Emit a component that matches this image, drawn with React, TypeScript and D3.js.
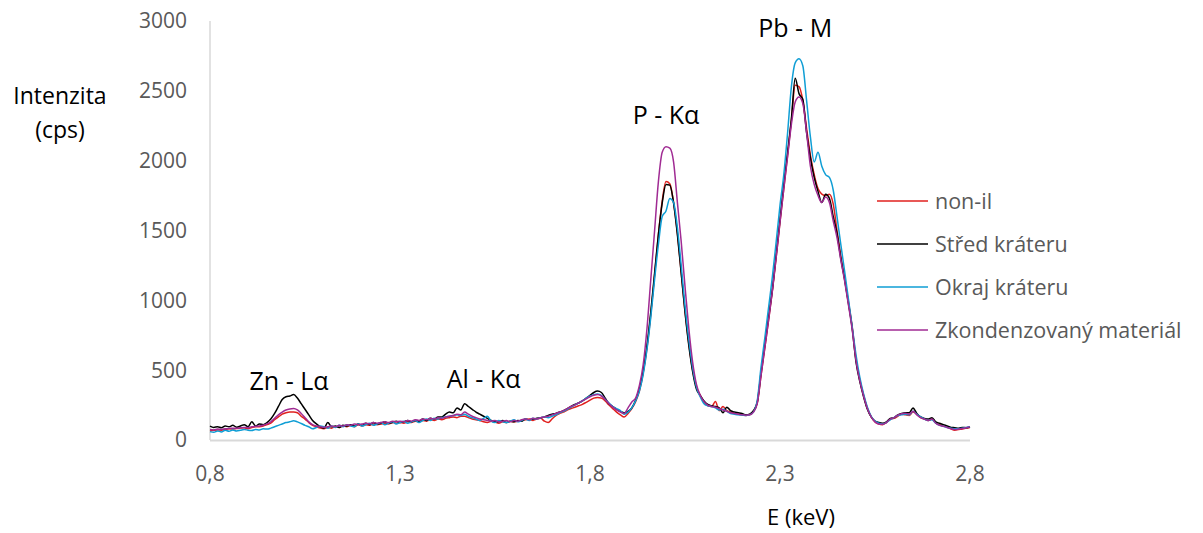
import React from "react";
import * as d3 from "d3";

const energies: number[] = d3.range(0, 201).map((i) => +(0.8 + i * 0.01).toFixed(2));

const nonIl: number[] = [
  65, 70, 72, 70, 75, 80, 78, 82, 85, 88,
  80, 90, 95, 95, 100, 110, 120, 145, 165, 185,
  195, 200, 200, 195, 170, 150, 125, 105, 95, 85,
  80, 90, 85, 95, 90, 100, 95, 105, 95, 110,
  100, 110, 105, 115, 110, 115, 120, 115, 125, 120,
  125, 120, 130, 125, 135, 130, 140, 135, 145, 140,
  150, 145, 155, 160, 165, 160, 170, 170, 160, 150,
  145, 140, 130, 125, 135, 130, 120, 130, 125, 135,
  130, 135, 140, 145, 150, 140, 150, 155, 135, 125,
  150, 175, 190, 200, 215, 225, 235, 245, 255, 270,
  285, 300, 305, 300, 280, 250, 225, 200, 180, 165,
  190, 225, 275, 350, 480, 660, 900, 1180, 1470, 1710,
  1850, 1835, 1700, 1480, 1200, 920, 690, 500, 380, 320,
  270, 245, 240, 275, 210, 240, 210, 200, 190, 185,
  185, 175, 180, 205, 260, 460, 660, 860, 1070, 1310,
  1560, 1800, 2040, 2290, 2540, 2530, 2430, 2230, 2040, 1900,
  1800, 1760, 1750, 1760, 1690, 1500, 1320, 1160, 990, 810,
  580, 430, 320, 225, 165, 130, 115, 110, 125, 150,
  155, 170, 185, 180, 175, 200, 185, 160, 150, 140,
  150, 125, 110, 100, 95, 80, 70, 75, 78, 85,
  90,
];

const stred: number[] = [
  100, 90, 95, 88, 100, 95, 105, 92, 100, 110,
  95, 130, 100, 115, 110, 125, 150, 190, 240, 290,
  310, 315, 325, 300, 260, 220, 180, 140, 115, 95,
  85, 125, 95, 100, 90, 105, 100, 110, 100, 115,
  105, 120, 110, 125, 115, 120, 130, 120, 125, 135,
  125, 130, 140, 130, 140, 135, 150, 140, 155, 150,
  165, 165, 185, 200, 195, 230, 215, 260, 240, 220,
  200, 185, 170, 155, 140, 135, 130, 140, 125, 135,
  130, 140, 135, 150, 145, 150, 155, 160, 165, 175,
  185, 190, 200, 210, 225, 240, 255, 265, 280, 300,
  320, 340, 350, 340, 300, 260, 240, 220, 205, 195,
  205, 230, 285, 365, 492, 677, 917, 1195, 1471, 1696,
  1830, 1825, 1696, 1471, 1195, 917, 677, 492, 365, 320,
  280, 255, 245, 240, 230, 195, 235, 210, 200, 195,
  190, 180, 185, 210, 270, 480, 680, 880, 1080, 1330,
  1580, 1830, 2060, 2300, 2590, 2480, 2440, 2200, 2020, 1880,
  1780, 1700, 1760, 1730, 1600, 1480, 1300, 1150, 980, 800,
  560, 420, 310, 220, 165, 135, 125, 120, 130, 155,
  160, 180, 190, 195, 195, 230, 190, 165, 155, 150,
  160, 130, 120, 110, 100, 90, 88, 85, 90, 88,
  93,
];

const okraj: number[] = [
  60, 55, 65, 58, 70, 62, 72, 65, 70, 75,
  70, 68, 75, 72, 80, 78, 85, 95, 105, 115,
  125, 130, 138, 130, 118, 105, 95, 80, 90, 100,
  95, 85, 100, 90, 105, 95, 110, 100, 95, 115,
  100, 110, 120, 105, 115, 125, 110, 120, 130, 115,
  125, 135, 120, 130, 140, 125, 140, 150, 140, 155,
  150, 160, 165, 170, 175, 180, 175, 185, 170, 160,
  150, 140, 155, 170, 135, 125, 140, 130, 125, 135,
  145, 130, 140, 150, 140, 155, 150, 160, 165, 160,
  170, 180, 195, 205, 220, 235, 250, 265, 280, 300,
  315, 325, 330, 320, 290, 265, 240, 225, 210, 185,
  200, 230, 280, 350, 470, 650, 880, 1150, 1400, 1600,
  1640, 1730, 1700, 1520, 1250, 960, 720, 520, 380, 310,
  260, 245, 240, 230, 215, 220, 205, 190, 185, 180,
  178, 175, 180, 200, 280, 520, 730, 950, 1170, 1420,
  1680, 1900, 2200, 2530, 2700, 2730, 2680, 2430, 2170, 1990,
  2060, 1960, 1900, 1880, 1790, 1600, 1400, 1210, 1010, 810,
  610, 450, 330, 235, 170, 135, 120, 115, 125, 145,
  160, 175, 180, 185, 180, 205, 185, 165, 150, 140,
  145, 120, 105, 98, 90, 85, 80, 82, 85, 90,
  95,
];

const zkond: number[] = [
  75, 72, 78, 76, 80, 82, 85, 84, 88, 90,
  88, 95, 98, 100, 105, 115, 130, 155, 180, 200,
  215, 222, 225, 215, 190, 160, 130, 110, 100, 95,
  90, 95, 100, 95, 105, 100, 110, 105, 115, 110,
  115, 120, 115, 125, 120, 125, 130, 125, 135, 130,
  135, 130, 140, 135, 145, 140, 150, 145, 155, 150,
  160, 155, 165, 170, 175, 185, 180, 200, 185, 170,
  160, 150, 145, 140, 135, 140, 130, 135, 140, 130,
  140, 135, 145, 150, 145, 155, 150, 160, 165, 170,
  180, 190, 200, 210, 225, 240, 250, 265, 280, 295,
  310, 320, 325, 315, 290, 260, 235, 215, 200, 190,
  230, 272, 300, 390, 540, 800, 1150, 1500, 1850, 2060,
  2100, 2090, 1990, 1700, 1420, 1100, 800, 560, 400, 320,
  275, 250, 240, 235, 225, 215, 205, 195, 190, 185,
  180, 178, 180, 200, 260, 460, 660, 860, 1070, 1310,
  1560, 1800, 2030, 2260, 2420, 2456, 2410, 2200, 1960, 1830,
  1750, 1700, 1740, 1700, 1570, 1450, 1290, 1140, 970, 790,
  570, 425, 315, 225, 165, 130, 115, 112, 125, 150,
  160, 178, 188, 192, 185, 205, 180, 160, 150, 140,
  150, 120, 105, 98, 90, 80, 75, 78, 82, 88,
  96,
];

const seriesNames = ["non-il", "Střed kráteru", "Okraj kráteru", "Zkondenzovaný materiál"];
const seriesColors = ["#e0201e", "#000000", "#0f9ed5", "#a02b93"];
const seriesData = [nonIl, stred, okraj, zkond];

const xTicks = [0.8, 1.3, 1.8, 2.3, 2.8];
const yTicks = [0, 500, 1000, 1500, 2000, 2500, 3000];

const peakLabels = [
  { text: "Zn - Lα", e: 1.008, py: 390 },
  { text: "Al - Kα", e: 1.52, py: 388 },
  { text: "P - Kα", e: 2.0, py: 124 },
  { text: "Pb - M", e: 2.34, py: 37 },
];

const FONT = "'Open Sans', 'Noto Sans', sans-serif";

export default function App() {
  const x = d3.scaleLinear().domain([0.8, 2.8]).range([210, 970]);
  const y = d3.scaleLinear().domain([0, 3000]).range([440, 21]);
  const line = d3
    .line<number>()
    .x((_, i) => x(energies[i]))
    .y((d) => y(d))
    .curve(d3.curveMonotoneX);

  return (
    <svg
      width={1203}
      height={533}
      style={{ position: "absolute", left: 0, top: 0, background: "#fff" }}
      fontFamily={FONT}
    >
      <rect x={0} y={0} width={1203} height={533} fill="#fff" />
      {/* axes */}
      <line x1={x(0.8)} x2={x(0.8)} y1={y(3000)} y2={y(0)} stroke="#d9d9d9" strokeWidth={1.5} />
      <line x1={x(0.8)} x2={x(2.8)} y1={y(0) + 0.5} y2={y(0) + 0.5} stroke="#d9d9d9" strokeWidth={2} />
      {/* y tick labels */}
      {yTicks.map((t) => (
        <text key={t} x={187} y={y(t)} dy="0.35em" textAnchor="end" fontSize={21} fill="#595959">
          {t}
        </text>
      ))}
      {/* x tick labels */}
      {xTicks.map((t) => (
        <text key={t} x={x(t)} y={481} textAnchor="middle" fontSize={21} fill="#595959">
          {t.toFixed(1).replace(".", ",")}
        </text>
      ))}
      {/* axis titles */}
      <text x={60} y={104} textAnchor="middle" fontSize={23} fill="#000">
        Intenzita
      </text>
      <text x={60} y={138} textAnchor="middle" fontSize={23} fill="#000">
        (cps)
      </text>
      <text x={801} y={525} textAnchor="middle" fontSize={22} fill="#000">
        E (keV)
      </text>
      {/* series */}
      {seriesData.map((d, i) => (
        <path key={i} d={line(d) || ""} fill="none" stroke={seriesColors[i]} strokeWidth={1.5} strokeLinejoin="round" />
      ))}
      {/* peak labels */}
      {peakLabels.map((p) => (
        <text key={p.text} x={x(p.e)} y={p.py} textAnchor="middle" fontSize={25} fill="#000">
          {p.text}
        </text>
      ))}
      {/* legend */}
      {seriesNames.map((n, i) => (
        <g key={n} transform={`translate(877, ${201 + i * 43})`}>
          <line x1={0} x2={51} y1={0} y2={0} stroke={seriesColors[i]} strokeWidth={1.5} />
          <text x={58} y={0} dy="0.35em" fontSize={21.5} fill="#595959">
            {n}
          </text>
        </g>
      ))}
    </svg>
  );
}
